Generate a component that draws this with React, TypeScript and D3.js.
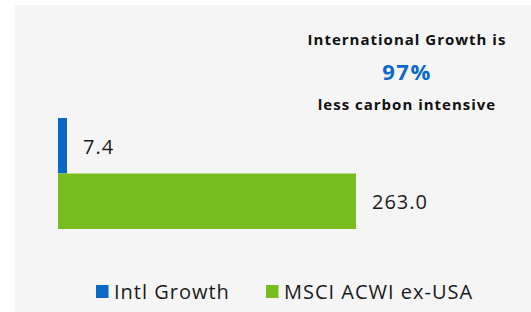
import * as d3 from "d3";
import React, { useEffect, useRef } from "react";

const series = ["Intl Growth", "MSCI ACWI ex-USA"];
const values = [7.4, 263.0];
const colors = ["#0a68c6", "#78bd20"];
const calloutLines = ["International Growth is", "97%", "less carbon intensive"];

const W = 531;
const H = 312;

const CarbonChart = () => {
  const svgRef = useRef<SVGSVGElement>(null);

  useEffect(() => {
    const svg = d3.select(svgRef.current);
    svg.selectAll("*").remove();
    const font = "'Open Sans', 'DejaVu Sans', sans-serif";

    // panel background
    svg
      .append("rect")
      .attr("x", 15)
      .attr("y", 5)
      .attr("width", W - 15)
      .attr("height", H - 5)
      .attr("fill", "#f5f5f5");

    const x = d3
      .scaleLinear()
      .domain([0, d3.max(values) as number])
      .range([58, 356]);

    const y = d3.scaleBand<string>().domain(series).range([118, 229]).padding(0);

    // bars
    svg
      .selectAll("rect.bar")
      .data(series)
      .enter()
      .append("rect")
      .attr("class", "bar")
      .attr("x", x(0))
      .attr("y", (d) => y(d) as number)
      .attr("width", (d, i) => Math.max(x(values[i]) - x(0), 9))
      .attr("height", y.bandwidth())
      .attr("fill", (d, i) => colors[i]);

    // value labels
    svg
      .selectAll("text.value")
      .data(series)
      .enter()
      .append("text")
      .attr("class", "value")
      .attr("x", (d, i) => x(0) + Math.max(x(values[i]) - x(0), 9) + 16)
      .attr("y", (d) => (y(d) as number) + y.bandwidth() / 2 + 8)
      .text((d, i) => values[i].toFixed(1))
      .style("font-family", font)
      .style("font-size", "20px")
      .style("letter-spacing", "1px")
      .style("fill", "#1a1a1a");

    // callout
    const cx = 407;
    const callY = [45, 80, 110];
    const callSize = [15, 22, 15];
    const callSpacing = [1, 1.5, 1];
    svg
      .selectAll("text.callout")
      .data(calloutLines)
      .enter()
      .append("text")
      .attr("class", "callout")
      .attr("x", cx)
      .attr("y", (d, i) => callY[i])
      .attr("text-anchor", "middle")
      .text((d) => d)
      .style("font-family", font)
      .style("font-weight", "bold")
      .style("font-size", (d, i) => `${callSize[i]}px`)
      .style("letter-spacing", (d, i) => `${callSpacing[i]}px`)
      .style("fill", (d, i) => (i === 1 ? colors[0] : "#111111"));

    // legend
    const legendX = [96, 266];
    const lg = svg
      .selectAll("g.legend")
      .data(series)
      .enter()
      .append("g")
      .attr("class", "legend")
      .attr("transform", (d, i) => `translate(${legendX[i]},285)`);
    lg.append("rect")
      .attr("width", 12.5)
      .attr("height", 13)
      .attr("fill", (d, i) => colors[i]);
    lg.append("text")
      .attr("x", 18)
      .attr("y", 14)
      .text((d) => d)
      .style("font-family", font)
      .style("font-size", "20px")
      .style("letter-spacing", "1px")
      .style("fill", "#1a1a1a");
  }, []);

  return (
    <svg
      ref={svgRef}
      width={W}
      height={H}
      style={{ position: "absolute", left: 0, top: 0, background: "#ffffff" }}
    ></svg>
  );
};

export default function App() {
  return <CarbonChart />;
}
